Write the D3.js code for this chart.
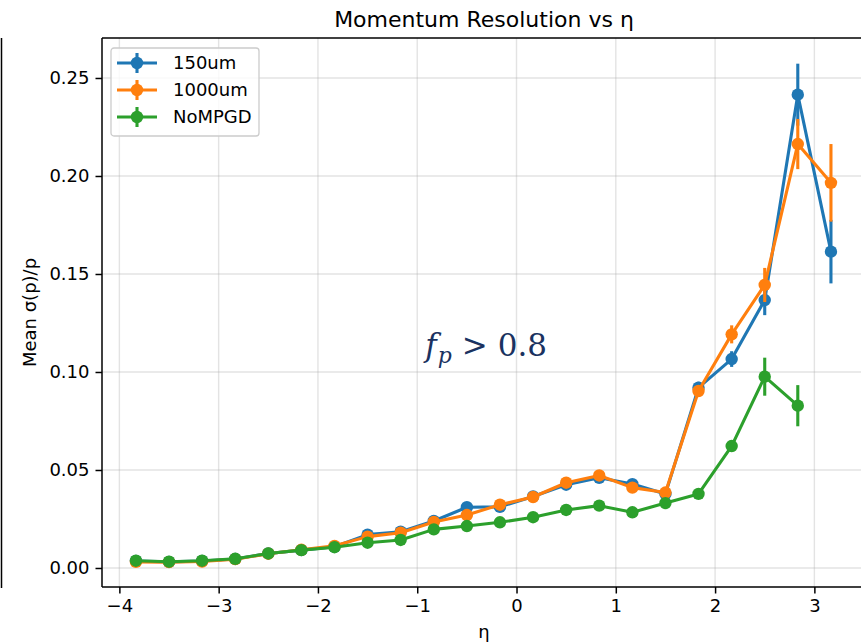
<!DOCTYPE html>
<html>
<head>
<meta charset="utf-8">
<script src="https://cdn.jsdelivr.net/npm/d3@7"></script>
<style>
  html, body { margin: 0; padding: 0; background: #fff; }
  svg { display: block; overflow: hidden; }
  text { font-family: "DejaVu Sans", sans-serif; }
</style>
</head>
<body>
<svg id="chart" width="861" height="644"></svg>
<script>
// η bin centres (bins of width 1/3 from -4 to 3.33)
const etaCenters = [-3.833, -3.5, -3.167, -2.833, -2.5, -2.167, -1.833, -1.5, -1.167, -0.833, -0.5,
                    -0.167, 0.167, 0.5, 0.833, 1.167, 1.5, 1.833, 2.167, 2.5, 2.833, 3.167];

const seriesNames = ["150um", "1000um", "NoMPGD"];
const seriesColors = ["#1f77b4", "#ff7f0e", "#2ca02c"];

// Mean σ(p)/p per η bin
const res150um = [0.0036, 0.0031, 0.0036, 0.0046, 0.0074, 0.0091, 0.0108, 0.0170, 0.0185, 0.0240, 0.0310,
                  0.0312, 0.0365, 0.0425, 0.0460, 0.0428, 0.0378, 0.0920, 0.1066, 0.1367, 0.2415, 0.1614];
const res1000um = [0.0031, 0.0030, 0.0033, 0.0045, 0.0073, 0.0093, 0.0113, 0.0160, 0.0180, 0.0235, 0.0270,
                   0.0323, 0.0362, 0.0435, 0.0472, 0.0410, 0.0385, 0.0903, 0.1192, 0.1444, 0.2163, 0.1965];
const resNoMPGD = [0.0037, 0.0032, 0.0037, 0.0047, 0.0074, 0.0091, 0.0106, 0.0129, 0.0143, 0.0197, 0.0214,
                   0.0233, 0.0259, 0.0296, 0.0318, 0.0284, 0.0331, 0.0378, 0.0622, 0.0976, 0.0828, null];

// Uncertainty on the mean per η bin
const err150um = [0.0002, 0.0002, 0.0002, 0.0003, 0.0004, 0.0004, 0.0005, 0.0008, 0.0008, 0.0010, 0.0012,
                  0.0012, 0.0012, 0.0014, 0.0015, 0.0016, 0.0018, 0.0030, 0.0040, 0.0077, 0.0158, 0.0162];
const err1000um = [0.0002, 0.0002, 0.0002, 0.0003, 0.0004, 0.0004, 0.0005, 0.0008, 0.0008, 0.0010, 0.0012,
                   0.0012, 0.0012, 0.0014, 0.0015, 0.0016, 0.0018, 0.0030, 0.0046, 0.0087, 0.0128, 0.0198];
const errNoMPGD = [0.0002, 0.0002, 0.0002, 0.0003, 0.0003, 0.0004, 0.0004, 0.0005, 0.0006, 0.0007, 0.0008,
                   0.0008, 0.0009, 0.0010, 0.0010, 0.0011, 0.0012, 0.0013, 0.0025, 0.0097, 0.0105, null];

const xTicks = [-4, -3, -2, -1, 0, 1, 2, 3];
const yTicks = [0.00, 0.05, 0.10, 0.15, 0.20, 0.25];

const seriesValues = [res150um, res1000um, resNoMPGD];
const seriesErrors = [err150um, err1000um, errNoMPGD];

const svg = d3.select("#chart");
const plot = { left: 102, right: 866, top: 38, bottom: 587 };

const x = d3.scaleLinear().domain([-4.175, 3.52]).range([plot.left, plot.right]);
const y = d3.scaleLinear().domain([-0.0097, 0.2704]).range([plot.bottom, plot.top]);

const tickFont = 18;
const lw = 3.1;
const markerR = 6.2;

// neighbouring panel edge at the far left
svg.append("line")
  .attr("x1", 1.5).attr("x2", 1.5).attr("y1", plot.top).attr("y2", plot.bottom + 1)
  .attr("stroke", "#000").attr("stroke-width", 1.5);

// grid
const grid = svg.append("g").attr("stroke", "#b0b0b0").attr("stroke-opacity", 0.35).attr("stroke-width", 1.4);
grid.selectAll("line.vx").data(xTicks).join("line")
  .attr("x1", d => x(d)).attr("x2", d => x(d)).attr("y1", plot.top).attr("y2", plot.bottom);
grid.selectAll("line.hy").data(yTicks).join("line")
  .attr("y1", d => y(d)).attr("y2", d => y(d)).attr("x1", plot.left).attr("x2", plot.right);

// series: error bars, connecting line, markers
const lineGen = d3.line().defined(d => d.v != null).x(d => x(d.eta)).y(d => y(d.v));
seriesValues.forEach((vals, i) => {
  const pts = etaCenters.map((eta, j) => ({ eta, v: vals[j], e: seriesErrors[i][j] }));
  const valid = pts.filter(p => p.v != null);
  const g = svg.append("g");
  g.selectAll("line.err").data(valid).join("line")
    .attr("x1", d => x(d.eta)).attr("x2", d => x(d.eta))
    .attr("y1", d => y(d.v - d.e)).attr("y2", d => y(d.v + d.e))
    .attr("stroke", seriesColors[i]).attr("stroke-width", lw);
  g.append("path").datum(valid).attr("d", lineGen)
    .attr("fill", "none").attr("stroke", seriesColors[i]).attr("stroke-width", lw)
    .attr("stroke-linejoin", "round");
  g.selectAll("circle").data(valid).join("circle")
    .attr("cx", d => x(d.eta)).attr("cy", d => y(d.v)).attr("r", markerR)
    .attr("fill", seriesColors[i]);
});

// axes
const xAxis = svg.append("g").attr("transform", `translate(0,${plot.bottom})`)
  .call(d3.axisBottom(x).tickValues(xTicks).tickSize(6.5).tickPadding(6)
    .tickFormat(d => d < 0 ? "\u2212" + Math.abs(d) : String(d)));
const yAxis = svg.append("g").attr("transform", `translate(${plot.left},0)`)
  .call(d3.axisLeft(y).tickValues(yTicks).tickSize(6.5).tickPadding(6).tickFormat(d3.format(".2f")));
[xAxis, yAxis].forEach(a => {
  a.select(".domain").remove();
  a.selectAll(".tick line").attr("stroke", "#000").attr("stroke-width", 1.5);
  a.selectAll(".tick text").attr("fill", "#000").style("font-size", tickFont + "px")
    .style("font-family", "'DejaVu Sans', sans-serif");
});

// spines
const spines = svg.append("g").attr("stroke", "#000").attr("stroke-width", 1.5).attr("fill", "none");
spines.append("line").attr("x1", plot.left).attr("x2", plot.left).attr("y1", plot.top).attr("y2", plot.bottom);
spines.append("line").attr("x1", plot.left).attr("x2", plot.right).attr("y1", plot.bottom).attr("y2", plot.bottom);
spines.append("line").attr("x1", plot.left).attr("x2", plot.right).attr("y1", plot.top).attr("y2", plot.top);
spines.append("line").attr("x1", plot.right).attr("x2", plot.right).attr("y1", plot.top).attr("y2", plot.bottom);

// title and axis labels
const midX = (plot.left + plot.right) / 2;
svg.append("text").attr("x", midX).attr("y", 27).attr("text-anchor", "middle")
  .style("font-size", "22px").text("Momentum Resolution vs η");
svg.append("text").attr("x", midX).attr("y", 638).attr("text-anchor", "middle")
  .style("font-size", tickFont + "px").text("η");
svg.append("text").attr("transform", `translate(36,${(plot.top + plot.bottom) / 2}) rotate(-90)`)
  .attr("text-anchor", "middle").style("font-size", tickFont + "px").text("Mean σ(p)/p");

// annotation: momentum-fraction cut
const note = svg.append("text").attr("x", x(-0.92)).attr("y", y(0.108))
  .attr("fill", "#1a3260").style("font-family", "'DejaVu Serif', serif").style("font-size", "31px");
note.append("tspan").style("font-style", "italic").text("f");
note.append("tspan").style("font-style", "italic").style("font-size", "22px").attr("dy", 7).attr("dx", 1).text("p");
note.append("tspan").attr("dy", -7).attr("dx", 10).text(">");
note.append("tspan").attr("dx", 10).text("0.8");

// legend
const legend = svg.append("g").attr("transform", "translate(111,48)");
legend.append("rect").attr("width", 148).attr("height", 88).attr("rx", 3)
  .attr("fill", "#fff").attr("fill-opacity", 0.8).attr("stroke", "#cccccc").attr("stroke-width", 1.3);
seriesNames.forEach((name, i) => {
  const row = legend.append("g").attr("transform", `translate(0,${15 + i * 27})`);
  row.append("line").attr("x1", 6).attr("x2", 46).attr("stroke", seriesColors[i]).attr("stroke-width", lw);
  row.append("line").attr("x1", 26).attr("x2", 26).attr("y1", -10).attr("y2", 10)
    .attr("stroke", seriesColors[i]).attr("stroke-width", lw);
  row.append("circle").attr("cx", 26).attr("r", markerR).attr("fill", seriesColors[i]);
  row.append("text").attr("x", 62).attr("dy", "0.36em").style("font-size", tickFont + "px").text(name);
});
</script>
</body>
</html>
